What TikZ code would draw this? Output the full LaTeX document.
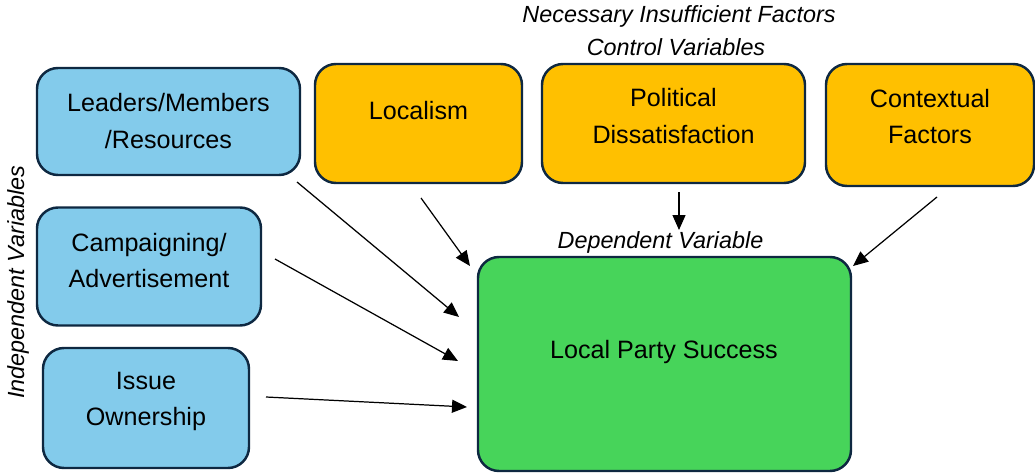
\documentclass[tikz,border=0pt]{standalone}
\usepackage{fontspec}
\setmainfont{Liberation Sans}
\usetikzlibrary{arrows.meta}

\definecolor{boxline}{HTML}{0E2841}
\definecolor{indepblue}{HTML}{83CBEB}
\definecolor{ctrlorange}{HTML}{FFC000}
\definecolor{depgreen}{HTML}{47D45A}

\begin{document}
\begin{tikzpicture}[
    box/.style={shape=rectangle, draw=boxline, line width=1.4pt, rounded corners=0.42cm, inner sep=0pt},
    indep/.style={box, fill=indepblue},
    ctrl/.style={box, fill=ctrlorange},
    dep/.style={box, fill=depgreen},
    boxtext/.style={align=center, font=\fontsize{14.3}{21}\selectfont},
    heading/.style={font=\fontsize{13.3}{16}\selectfont\itshape},
    link/.style={-{Triangle[length=0.3cm, width=0.26cm]}, line width=0.7pt}
  ]
  \useasboundingbox (0,0) rectangle (20.7,-9.44);

  % independent variables
  \node[indep, minimum width=5.26cm, minimum height=2.14cm] (Leaders) at (3.37,-2.43) {};
  \node[indep, minimum width=4.48cm, minimum height=2.36cm] (Campaigning) at (2.98,-5.33) {};
  \node[indep, minimum width=4.12cm, minimum height=2.40cm] (Issue) at (2.92,-8.16) {};
  \node[boxtext] (LeadersText) at (3.37,-2.42) {Leaders/Members\\/Resources};
  \node[boxtext] (CampaigningText) at (2.98,-5.21) {Campaigning/\\Advertisement};
  \node[boxtext] (IssueText) at (2.92,-8.03) {Issue\\Ownership};

  % control variables
  \node[ctrl, minimum width=4.14cm, minimum height=2.38cm] (Localism) at (8.37,-2.47) {};
  \node[ctrl, minimum width=5.26cm, minimum height=2.38cm] (Political) at (13.47,-2.47) {};
  \node[ctrl, minimum width=4.16cm, minimum height=2.44cm] (Contextual) at (18.60,-2.50) {};
  \node[boxtext] (LocalismText) at (8.37,-2.22) {Localism};
  \node[boxtext] (PoliticalText) at (13.47,-2.32) {Political\\Dissatisfaction};
  \node[boxtext] (ContextualText) at (18.60,-2.33) {Contextual\\Factors};

  % dependent variable
  \node[dep, minimum width=7.46cm, minimum height=4.28cm] (Success) at (13.29,-7.28) {};
  \node[boxtext] (SuccessText) at (13.28,-7.04) {Local Party Success};

  % group labels
  \node[heading] (NecessaryLabel) at (13.58,-0.32) {Necessary Insufficient Factors};
  \node[heading] (ControlLabel) at (13.52,-0.94) {Control Variables};
  \node[heading] (DependentLabel) at (13.21,-4.84) {Dependent Variable};
  \node[heading, rotate=90] (IndependentLabel) at (0.36,-5.64) {Independent Variables};

  % arrow ends
  \coordinate (LeadersOut) at (5.94,-3.64);
  \coordinate (LeadersIn) at (9.18,-6.34);
  \coordinate (LocalismOut) at (8.42,-3.96);
  \coordinate (LocalismIn) at (9.40,-5.32);
  \coordinate (PoliticalOut) at (13.58,-3.84);
  \coordinate (PoliticalIn) at (13.58,-4.60);
  \coordinate (ContextualOut) at (18.74,-3.94);
  \coordinate (ContextualIn) at (17.06,-5.32);
  \coordinate (CampaigningOut) at (5.50,-5.18);
  \coordinate (CampaigningIn) at (9.16,-7.22);
  \coordinate (IssueOut) at (5.32,-7.94);
  \coordinate (IssueIn) at (9.34,-8.14);

  \draw[link] (LeadersOut) -- (LeadersIn);
  \draw[link] (LocalismOut) -- (LocalismIn);
  \draw[link] (PoliticalOut) -- (PoliticalIn);
  \draw[link] (ContextualOut) -- (ContextualIn);
  \draw[link] (CampaigningOut) -- (CampaigningIn);
  \draw[link] (IssueOut) -- (IssueIn);
\end{tikzpicture}
\end{document}
